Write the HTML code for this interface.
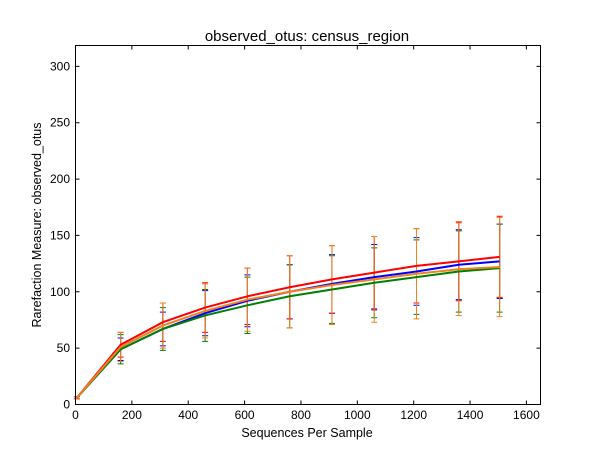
<!DOCTYPE html>
<html><head><meta charset="utf-8"><style>
body{margin:0;background:#fff;width:600px;height:450px;overflow:hidden}
text{font-family:"Liberation Sans",sans-serif;fill:#000}
</style></head><body>
<svg id="chart" width="600" height="450" xmlns="http://www.w3.org/2000/svg">
<rect width="600" height="450" fill="#fff"/>
<text x="307" y="41" text-anchor="middle" font-size="15">observed_otus: census_region</text>
<text x="307" y="437" text-anchor="middle" font-size="12.5">Sequences Per Sample</text>
<text transform="translate(41,225) rotate(-90)" text-anchor="middle" font-size="12.5">Rarefaction Measure: observed_otus</text>
<g id="ticks"></g>
<g id="marks"></g>
<rect x="75.5" y="45.5" width="465" height="359" fill="none" stroke="#000" stroke-width="1"/>
</svg>
<script>
const xTicks=[0,200,400,600,800,1000,1200,1400,1600];
const yTicks=[0,50,100,150,200,250,300];
const depths=[5,160,310,460,610,760,910,1060,1210,1360,1505];
const seriesNames=['blue','green','red','orange'];
const blueMean=[6,49,67,81,92,100,107,113,118,124,127];
const blueErr=[1,10,15,20,23,24,26,29,30,31,33];
const greenMean=[6,49,67,79,88,96,102,108,113,118,121];
const greenErr=[1,13,19,23,25,28,30,31,33,36,39];
const redMean=[6,53,73,86,96,104,111,117,123,127,131];
const redErr=[1,11,17,22,25,28,30,32,33,35,36];
const orangeMean=[6,51,70,83,93,100,106,111,116,120,122];
const orangeErr=[1,13,20,24,28,32,35,38,40,41,44];
const colors={blue:'#0000ff',green:'#008000',red:'#ff0000',orange:'#f08020'};
const seriesData={blue:[blueMean,blueErr],green:[greenMean,greenErr],red:[redMean,redErr],orange:[orangeMean,orangeErr]};
const X0=75.5,X1=540.5,Y0=404.5,Y1=45.5;
const xs=v=>X0+v/1650*(X1-X0);
const ys=v=>Y0-v/318.5*(Y0-Y1);
const NS='http://www.w3.org/2000/svg';
function mk(tag,attrs,parent){const e=document.createElementNS(NS,tag);for(const k in attrs)e.setAttribute(k,attrs[k]);parent.appendChild(e);return e;}
const tg=document.getElementById('ticks');
xTicks.forEach(t=>{const x=xs(t);
 const l=mk('path',{d:`M${x},${Y0}v-4M${x},${Y1}v4`,stroke:'#000'},tg);
 
 
 const tx=mk('text',{x:x,y:419,'text-anchor':'middle','font-size':'12'},tg);tx.textContent=t;
 
 
});
yTicks.forEach(t=>{const y=ys(t);
 const l=mk('path',{d:`M${X0},${y}h4M${X1},${y}h-4`,stroke:'#000'},tg);
 
 
 const tx=mk('text',{x:70,y:y+4,'text-anchor':'end','font-size':'12'},tg);tx.textContent=t;
 
 
});
const mg=document.getElementById('marks');
seriesNames.forEach(s=>{const [m,e]=seriesData[s];const c=colors[s];
 depths.forEach((d,i)=>{const x=xs(d),a=ys(m[i]+e[i]),b=ys(m[i]-e[i]);
  const p=mk('path',{d:`M${x},${a}V${b}M${x-3},${a}h6M${x-3},${b}h6`,stroke:c,'stroke-width':1,fill:'none'},mg);
  
  
 });
});
seriesNames.forEach(s=>{const [m]=seriesData[s];
 const pl=mk('polyline',{points:depths.map((d,i)=>xs(d)+','+ys(m[i])).join(' '),stroke:colors[s],'stroke-width':2,fill:'none'},mg);
 
 
});
</script>
</body></html>
